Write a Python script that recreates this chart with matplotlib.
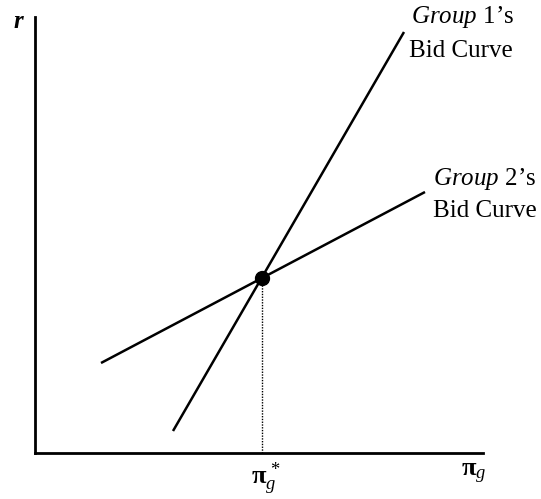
import matplotlib
matplotlib.use("Agg")
import matplotlib.pyplot as plt

plt.rcParams['font.family'] = ['Liberation Serif', 'DejaVu Serif']
plt.rcParams['mathtext.fontset'] = 'custom'
plt.rcParams['mathtext.rm'] = 'Liberation Serif'
plt.rcParams['mathtext.it'] = 'Liberation Serif:italic'
plt.rcParams['mathtext.bf'] = 'Liberation Serif:bold'

# Data (conceptual diagram units, origin at axes corner)
curve1_x = [138, 369]
curve1_y = [22, 421]
curve2_x = [66, 390]
curve2_y = [90, 261]
eq_x = [227]
eq_y = [175]
x_max = 448
y_max = 436

W, H = 541, 499
fig = plt.figure(figsize=(W/100, H/100), dpi=100)
ax = fig.add_axes([35/W, 46/H, x_max/W, y_max/H])
ax.set_xlim(0, x_max)
ax.set_ylim(0, y_max)
for s in ['top', 'right']:
    ax.spines[s].set_visible(False)
for s in ['left', 'bottom']:
    ax.spines[s].set_linewidth(2.0)
ax.set_xticks([])
ax.set_yticks([])
ax.patch.set_alpha(0)

ax.plot(curve1_x, curve1_y, color='black', lw=1.8, solid_capstyle='butt')
ax.plot(curve2_x, curve2_y, color='black', lw=1.8, solid_capstyle='butt')
ax.plot([eq_x[0], eq_x[0]], [0, eq_y[0]], color='black', lw=1, ls=(0, (1, 1)))
ax.plot(eq_x, eq_y, 'o', color='black', ms=10, zorder=5)

fs = 18
fig.text(411/W, 1 - 23/H, "$\\it{Group}$ 1\u2019s", fontsize=fs, ha='left', va='baseline')
fig.text(409/W, 1 - 57/H, "Bid Curve", fontsize=fs, ha='left', va='baseline')
fig.text(433/W, 1 - 185/H, "$\\it{Group}$ 2\u2019s", fontsize=fs, ha='left', va='baseline')
fig.text(433/W, 1 - 217/H, "Bid Curve", fontsize=fs, ha='left', va='baseline')

fig.text(13/W, 1 - 28/H, "r", fontsize=fs, ha='left', va='baseline',
         fontstyle='italic', fontweight='bold')
fig.text(251/W, 1 - 484/H, "$\\mathbf{\\pi}^{\\,*}_{g}$", fontsize=19, ha='left', va='baseline')
fig.text(461/W, 1 - 476/H, "$\\mathbf{\\pi}_{g}$", fontsize=19, ha='left', va='baseline')

fig.savefig("out.png", dpi=100)
